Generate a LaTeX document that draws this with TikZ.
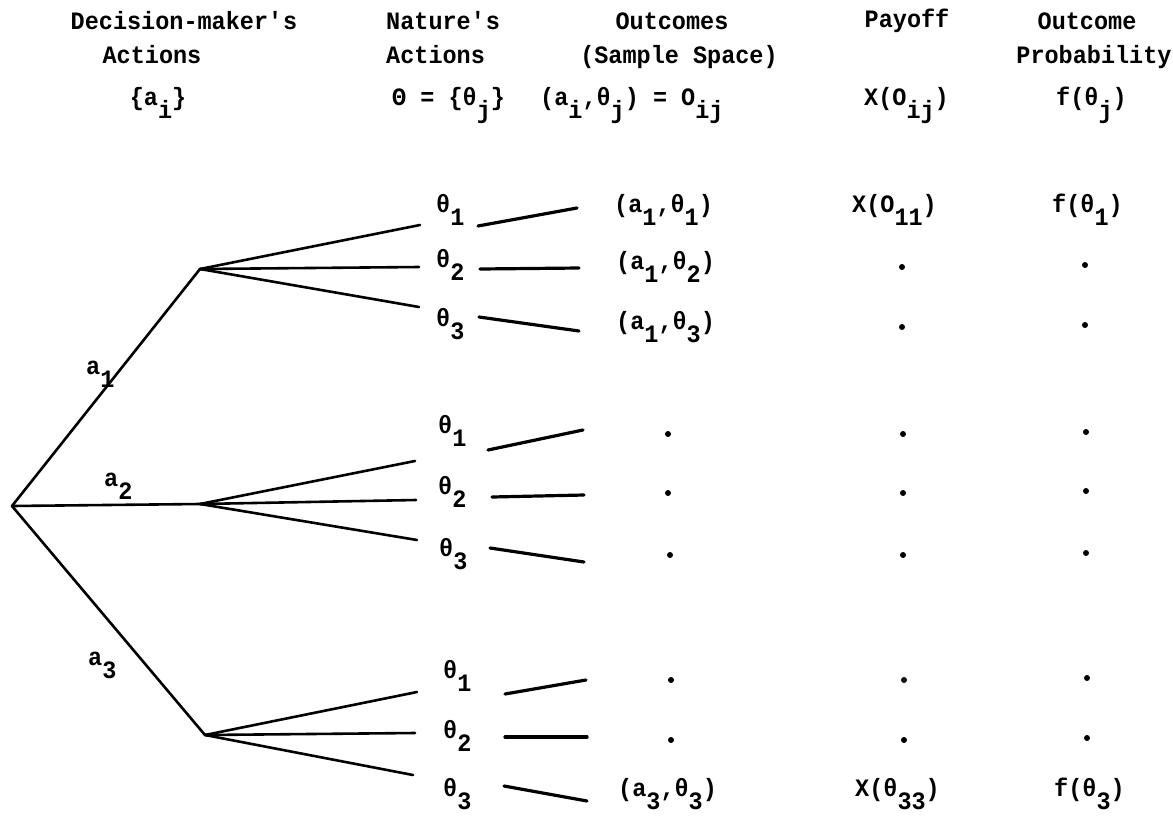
\documentclass[tikz,border=0pt]{standalone}
\usepackage{fontspec}
\setmainfont{Liberation Mono}[FakeStretch=0.94]
\newcommand\lo[1]{\raisebox{-0.5em}{#1}}
\begin{document}
\begin{tikzpicture}[x=1pt,y=-1pt,
  txt/.style={font=\fontsize{25}{28}\selectfont\bfseries, inner sep=0pt},
  lbl/.style={txt, anchor=mid west},
  ctr/.style={txt, anchor=mid},
  tree/.style={line width=2.6pt, line cap=round, line join=round},
  conn/.style={line width=3.2pt, line cap=round},
  pt/.style={circle, fill, inner sep=0pt, minimum size=6pt}]
\useasboundingbox (0,0) rectangle (1173,820);

% headers
\node[ctr] (h1a) at (184,27) {Decision-maker\textquotesingle s};
\node[ctr] (h1b) at (152,61) {Actions};
\node[ctr] (h1c) at (158,103) {\{a\lo{i}\}};
\node[lbl] (h2a) at (386,27) {Nature\textquotesingle s};
\node[lbl] (h2b) at (386,61) {Actions};
\node[lbl] (h2c) at (392,103) {Θ = \{θ\lo{j}\}};
\node[ctr] (h3a) at (672,27) {Outcomes};
\node[ctr] (h3b) at (679,61) {(Sample Space)};
\node[lbl] (h3c) at (540,103) {(a\lo{i},θ\lo{j}) = O\lo{ij}};
\node[ctr] (h4a) at (907,25) {Payoff};
\node[lbl] (h4c) at (864,103) {X(O\lo{ij})};
\node[ctr] (h5a) at (1087,27) {Outcome};
\node[ctr] (h5b) at (1094,61) {Probability};
\node[lbl] (h5c) at (1056,103) {f(θ\lo{j})};

% tree
\coordinate (R) at (12,506);
\coordinate (F1) at (200,269);
\coordinate (F2) at (200,504);
\coordinate (F3) at (205,735);
\coordinate (L11) at (420,225);
\coordinate (L12) at (419,267);
\coordinate (L13) at (419,307);
\coordinate (L21) at (415,461);
\coordinate (L22) at (416,500);
\coordinate (L23) at (417,540);
\coordinate (L31) at (417,692);
\coordinate (L32) at (415,733);
\coordinate (L33) at (413,775);
\draw[tree] (R) -- (F1);
\draw[tree] (R) -- (F2);
\draw[tree] (R) -- (F3);
\foreach \g in {1,2,3}{
  \foreach \k in {1,2,3}{
    \draw[tree] (F\g) -- (L\g\k);
  }
}
\node[lbl] (A1) at (86,372) {a\lo{1}};
\node[lbl] (A2) at (104,484) {a\lo{2}};
\node[lbl] (A3) at (88,663) {a\lo{3}};

% nature labels
\node[lbl] (T11) at (436,210) {θ\lo{1}};
\node[lbl] (T12) at (436,265) {θ\lo{2}};
\node[lbl] (T13) at (436,324) {θ\lo{3}};
\node[lbl] (T21) at (438,431) {θ\lo{1}};
\node[lbl] (T22) at (438,492) {θ\lo{2}};
\node[lbl] (T23) at (439,554) {θ\lo{3}};
\node[lbl] (T31) at (443,676) {θ\lo{1}};
\node[lbl] (T32) at (443,736) {θ\lo{2}};
\node[lbl] (T33) at (443,794) {θ\lo{3}};

% connectors
\coordinate (C11a) at (478,226); \coordinate (C11b) at (577,208);
\coordinate (C12a) at (480,269); \coordinate (C12b) at (579,268);
\coordinate (C13a) at (479,317); \coordinate (C13b) at (579,331);
\coordinate (C21a) at (488,450); \coordinate (C21b) at (583,430);
\coordinate (C22a) at (492,497); \coordinate (C22b) at (584,495);
\coordinate (C23a) at (490,548); \coordinate (C23b) at (584,562);
\coordinate (C31a) at (505,694); \coordinate (C31b) at (586,680);
\coordinate (C32a) at (505,737); \coordinate (C32b) at (587,737);
\coordinate (C33a) at (504,786); \coordinate (C33b) at (587,801);
\foreach \g in {1,2,3}{
  \foreach \k in {1,2,3}{
    \draw[conn] (C\g\k a) -- (C\g\k b);
  }
}

% outcomes
\node[lbl] (O11) at (614,210) {(a\lo{1},θ\lo{1})};
\node[lbl] (O12) at (616,267) {(a\lo{1},θ\lo{2})};
\node[lbl] (O13) at (616,327) {(a\lo{1},θ\lo{3})};
\node[pt] (O21) at (668,434) {};
\node[pt] (O22) at (668,493) {};
\node[pt] (O23) at (670,555) {};
\node[pt] (O31) at (671,680) {};
\node[pt] (O32) at (671,740) {};
\node[lbl] (O33) at (618,794) {(a\lo{3},θ\lo{3})};

% payoff
\node[lbl] (P11) at (852,210) {X(O\lo{11})};
\node[pt] (P12) at (902,267) {};
\node[pt] (P13) at (902,327) {};
\node[pt] (P21) at (903,434) {};
\node[pt] (P22) at (903,493) {};
\node[pt] (P23) at (903,555) {};
\node[pt] (P31) at (904,680) {};
\node[pt] (P32) at (904,740) {};
\node[lbl] (P33) at (855,794) {X(θ\lo{33})};

% probability
\node[lbl] (Q11) at (1052,210) {f(θ\lo{1})};
\node[pt] (Q12) at (1085,265) {};
\node[pt] (Q13) at (1085,325) {};
\node[pt] (Q21) at (1086,432) {};
\node[pt] (Q22) at (1086,491) {};
\node[pt] (Q23) at (1086,553) {};
\node[pt] (Q31) at (1087,678) {};
\node[pt] (Q32) at (1087,738) {};
\node[lbl] (Q33) at (1054,794) {f(θ\lo{3})};
\end{tikzpicture}
\end{document}
